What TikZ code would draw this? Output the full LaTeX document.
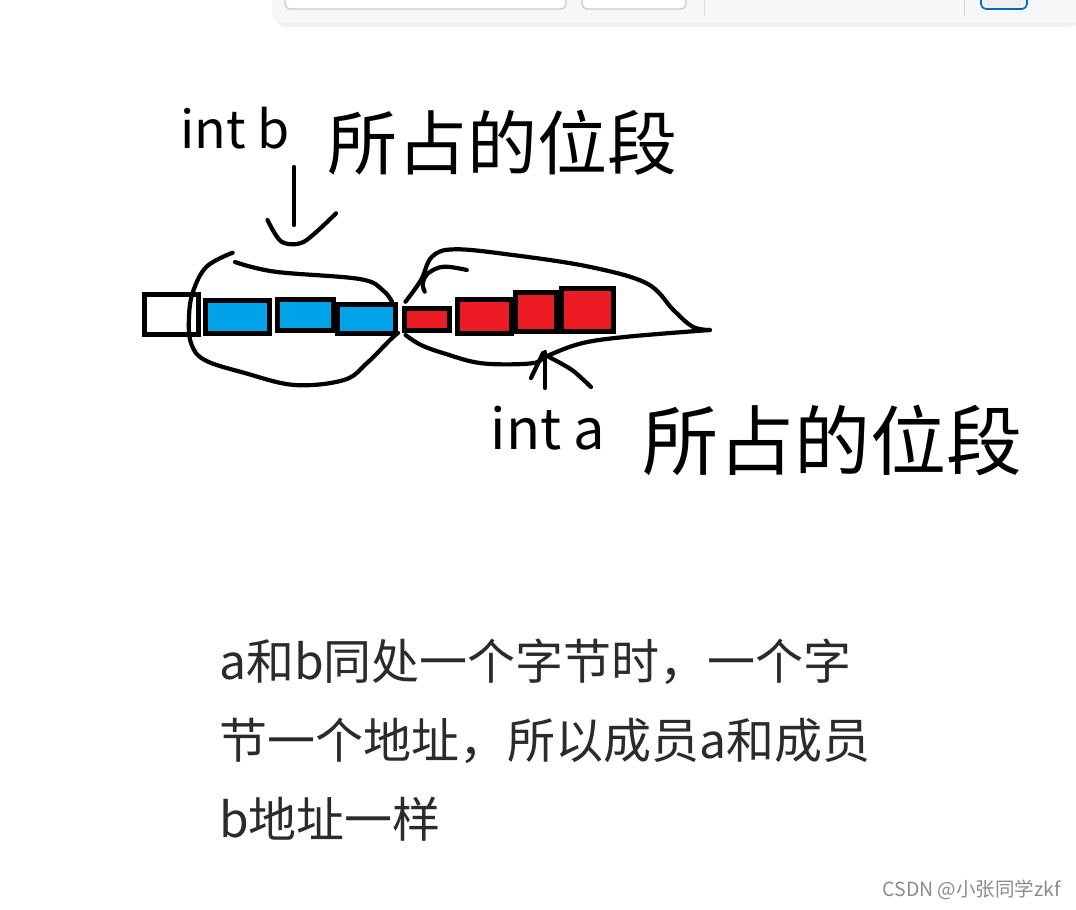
\documentclass[tikz,border=0pt]{standalone}
\usepackage{fontspec}
\newfontfamily\cjk{Noto Sans CJK SC}
\definecolor{pintaAzul}{HTML}{00A2E8}
\definecolor{pintaRojo}{HTML}{ED1C24}
\definecolor{barraGris}{HTML}{F6F7F9}
\definecolor{barraAzul}{HTML}{0067C0}
\definecolor{textoGris}{HTML}{2B2B2B}
\tikzset{
  celda/.style={draw=black, line width=5.5pt, inner sep=0pt},
  trazo/.style={line width=4.2pt, line cap=round, line join=round},
  mano/.style={font=\cjk, inner sep=0pt},
  parrafo/.style={font=\cjk\fontsize{48}{58}\selectfont, text=textoGris, anchor=base west, inner sep=0pt}
}
\begin{document}
\begin{tikzpicture}[x=1pt, y=-1pt]
    \useasboundingbox[fill=white] (0,0) rectangle (1076,910);

    % Barra de la ventana
    \fill[black!6, rounded corners=10pt] (276,-10) rectangle (1080,27);
    \fill[barraGris, rounded corners=10pt] (272,-14) rectangle (1090,22);
    \draw[black!22, line width=1.2pt, fill=white, rounded corners=5pt] (285,-10) rectangle (566,9);
    \draw[black!22, line width=1.2pt, fill=white, rounded corners=5pt] (582,-10) rectangle (686,9);
    \draw[black!15, line width=1pt] (704,0) -- (704,16);
    \draw[black!15, line width=1pt] (964,0) -- (964,16);
    \draw[barraAzul, line width=1.6pt, fill=black!6, rounded corners=5pt] (981,-10) rectangle (1027,9);

    % Celdas de bits
    \node[celda, fill=white, minimum width=54pt, minimum height=40pt] (vacio) at (171.5,314.5) {};
    \node[celda, fill=pintaAzul, minimum width=64pt, minimum height=33pt] (azul1) at (237.5,317) {};
    \node[celda, fill=pintaAzul, minimum width=56pt, minimum height=31pt] (azul2) at (305.5,315) {};
    \node[celda, fill=pintaAzul, minimum width=58pt, minimum height=29pt] (azul3) at (366.5,319) {};
    \node[celda, fill=pintaRojo, minimum width=45pt, minimum height=22pt] (rojo1) at (427,319.5) {};
    \node[celda, fill=pintaRojo, minimum width=54pt, minimum height=34pt] (rojo2) at (484.5,316.5) {};
    \node[celda, fill=pintaRojo, minimum width=41pt, minimum height=39pt] (rojo3) at (536,312) {};
    \node[celda, fill=pintaRojo, minimum width=52pt, minimum height=43pt] (rojo4) at (587.5,310) {};

    % Contorno de int b
    \draw[trazo] plot[smooth, tension=0.6] coordinates {(232.6,252.7) (206.5,266.7) (193,291.7) (189,316.7) (191,343) (204.6,360) (244.8,373) (294.6,385) (344,380) (367,363) (390,340) (398,333)};
    \draw[trazo] plot[smooth, tension=0.6] coordinates {(235,262) (275,271.7) (359.6,279) (382.6,290) (392,301.7)};

    % Contorno de int a
    \draw[trazo] plot[smooth, tension=0.6] coordinates {(405.5,335) (421,345) (443.8,353.3) (482,363.3) (531.8,363.3) (547,356) (581.6,343.3) (627.5,336.7) (709.8,330)};
    \draw[trazo] plot[smooth, tension=0.6] coordinates {(709.8,330) (692.6,326.7) (673.4,310) (646.6,283.3) (589,266.7) (512.7,255) (455,249.3) (432,256.7) (421,280) (405.5,301.7)};
    \draw[trazo] plot[smooth, tension=0.6] coordinates {(466.8,270) (443.8,266.7) (428.5,273) (422.8,283) (424.7,291.7)};

    % Flechas
    \draw[trazo] (294,167) -- (294,225);
    \draw[trazo] plot[smooth, tension=0.5] coordinates {(267.5,220) (281.5,241.7) (304,241.7) (336,213.3)};
    \draw[trazo] (545,388) -- (545,352);
    \draw[trazo] (531,378) -- (543,353);
    \draw[trazo] plot[smooth, tension=0.5] coordinates {(549,357) (572,370) (591,387)};

    % Etiquetas
    \node[mano, font=\cjk\fontsize{52}{52}\selectfont] (intB) at (235,128) {int b};
    \node[mano, font=\cjk\fontsize{70}{70}\selectfont] (segB) at (502,143) {所占的位段};
    \node[mano, font=\cjk\fontsize{56}{56}\selectfont] (intA) at (548,428) {int a};
    \node[mano, font=\cjk\fontsize{76}{76}\selectfont] (segA) at (832,440) {所占的位段};

    % Texto
    \node[parrafo] (linea1) at (219,679) {a和b同处一个字节时，一个字};
    \node[parrafo] (linea2) at (219,758) {节一个地址，所以成员a和成员};
    \node[parrafo] (linea3) at (219,837) {b地址一样};
    \node[font=\cjk\fontsize{19.5}{19.5}\selectfont, text=black!45, anchor=east, inner sep=0pt] (marca) at (1061,890) {CSDN @小张同学zkf};
\end{tikzpicture}
\end{document}
